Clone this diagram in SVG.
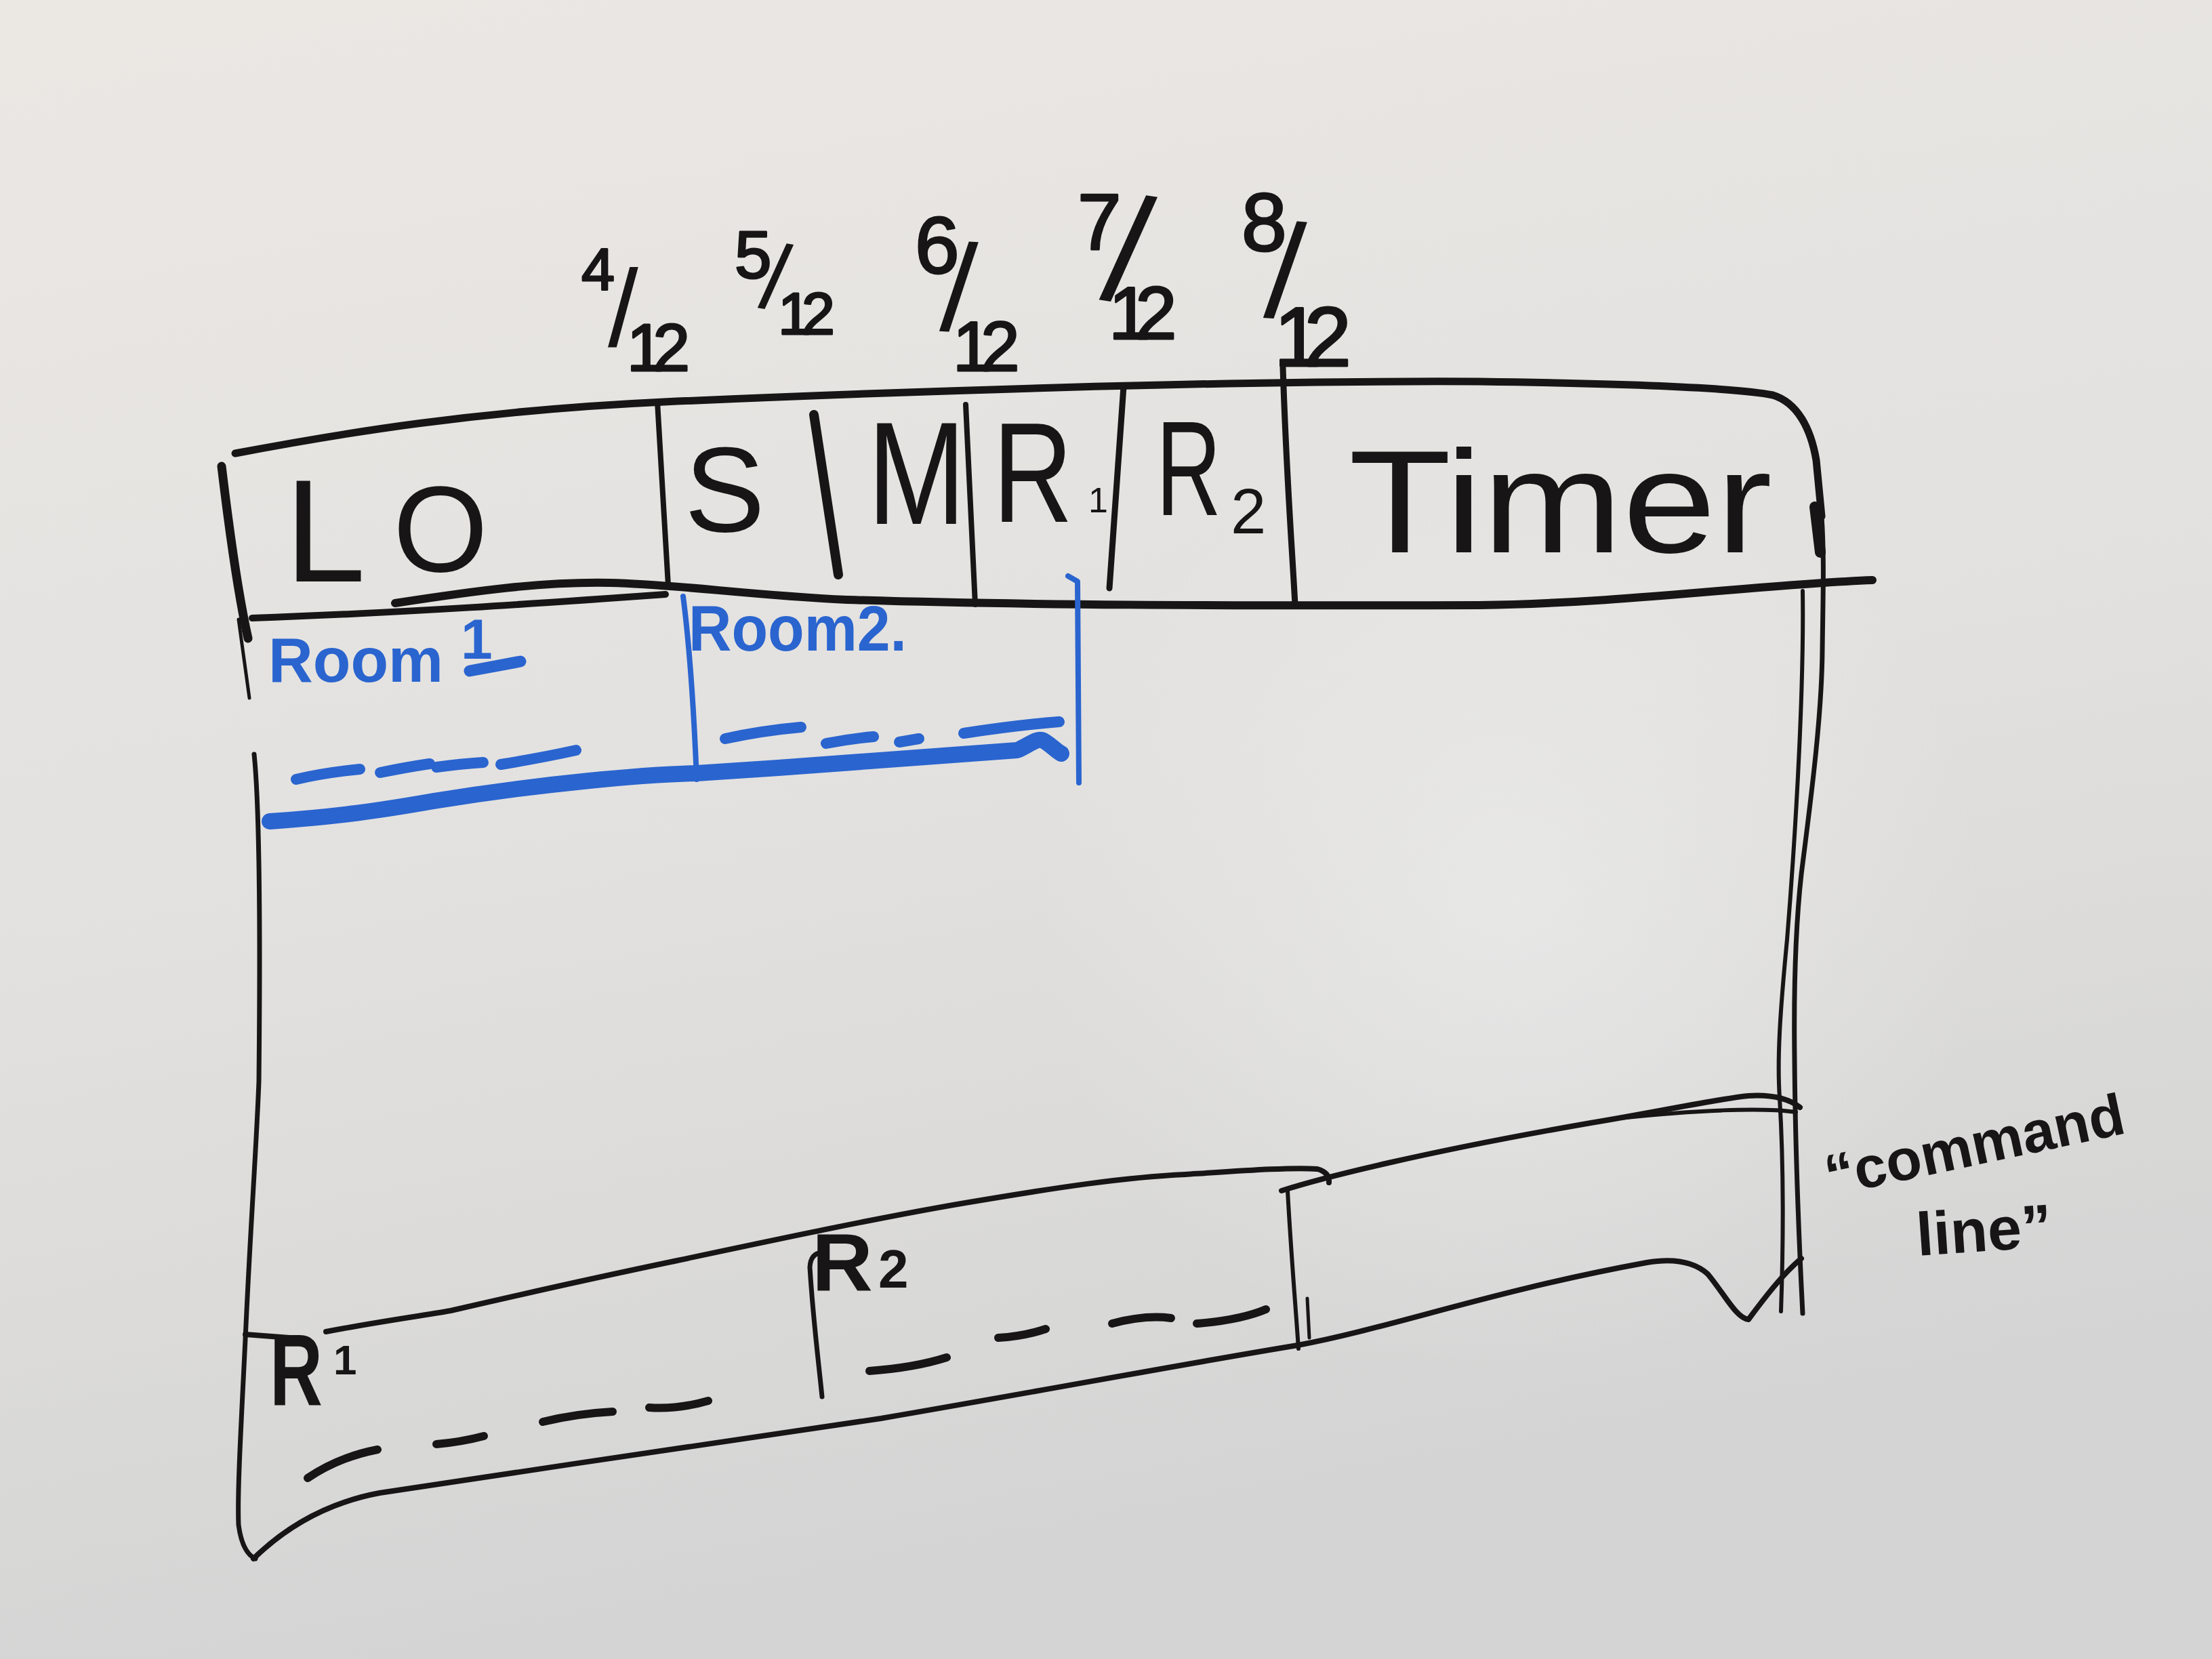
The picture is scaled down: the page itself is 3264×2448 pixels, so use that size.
<svg xmlns="http://www.w3.org/2000/svg" width="3264" height="2448" viewBox="0 0 3264 2448">
  <defs>
    <linearGradient id="board" x1="0" y1="0" x2="0.25" y2="1">
      <stop offset="0" stop-color="#ebe8e4"/>
      <stop offset="0.55" stop-color="#e2e1df"/>
      <stop offset="1" stop-color="#d4d4d4"/>
    </linearGradient>
    <radialGradient id="glare" cx="2230" cy="1330" r="700" gradientUnits="userSpaceOnUse">
      <stop offset="0" stop-color="#eeeeee" stop-opacity="0.6"/>
      <stop offset="1" stop-color="#eeeeee" stop-opacity="0"/>
    </radialGradient>
  </defs>
  <style>
    .ink { fill: none; stroke: #171515; stroke-linecap: round; stroke-linejoin: round; }
    .blue { fill: none; stroke: #2a64cf; stroke-linecap: round; stroke-linejoin: round; }
    .t { fill: #171515; font-family: "Liberation Sans", Arial, sans-serif; }
    .tb { fill: #171515; font-family: "Liberation Sans", Arial, sans-serif; font-weight: bold; }
    .fr { fill: #171515; stroke: #171515; stroke-width: 3; stroke-linejoin: round; font-family: "Liberation Sans", Arial, sans-serif; }
    .sl { stroke: none; }
    .bt { fill: #2a64cf; font-family: "Liberation Sans", Arial, sans-serif; font-weight: bold; }
  </style>

  <rect x="0" y="0" width="3264" height="2448" fill="url(#board)"/>
  <rect x="0" y="0" width="3264" height="2448" fill="url(#glare)"/>

  <!-- frame and divider strokes -->
  <g id="frame-lines">
    <!-- header top border with rounded right corner -->
    <path class="ink" stroke-width="11" d="M347,669 C500,640 700,606 980,593 C1300,579 1800,561 2183,563 C2400,566 2560,572 2616,583 C2652,594 2672,632 2680,679 L2688,762"/>
    <path class="ink" stroke-width="16" d="M2678,748 L2686,815"/>
    <!-- right body border (two strands) -->
    <path class="ink" stroke-width="7" d="M2688,762 C2692,820 2690,880 2689,960 C2688,1060 2672,1180 2658,1290 C2648,1380 2647,1480 2648,1560 C2649,1700 2654,1820 2660,1938"/>
    <path class="ink" stroke-width="6" d="M2660,872 C2662,1000 2652,1200 2637,1386 C2627,1490 2622,1560 2626,1620 C2632,1720 2632,1820 2628,1935"/>
    <!-- header left edge -->
    <path class="ink" stroke-width="13" d="M327,688 C338,780 352,880 366,942"/>
    <path class="ink" stroke-width="5" d="M352,914 L368,1030"/>
    <!-- left body border -->
    <path class="ink" stroke-width="7" d="M375,1113 C384,1200 384,1400 382,1596 C378,1700 370,1800 362,1976 C356,2100 350,2200 352,2250 C356,2280 366,2295 377,2300"/>
    <!-- header bottom lines -->
    <path class="ink" stroke-width="12" d="M583,890 C700,872 800,858 900,860 C1000,862 1100,878 1250,885 C1500,893 1800,894 2183,893 C2400,890 2600,862 2763,856"/>
    <path class="ink" stroke-width="10" d="M372,912 C600,904 800,890 982,877"/>
    <!-- header cell dividers -->
    <path class="ink" stroke-width="8" d="M970,593 L986,864"/>
    <path class="ink" stroke-width="14" d="M1201,612 L1237,848"/>
    <path class="ink" stroke-width="8" d="M1425,597 L1439,892"/>
    <path class="ink" stroke-width="9" d="M1658,570 L1637,868"/>
    <path class="ink" stroke-width="9" d="M1893,542 C1898,700 1906,800 1911,892"/>
    <!-- bottom panel: upper line -->
    <path class="ink" stroke-width="8" d="M362,1969 L427,1974"/>
    <path class="ink" stroke-width="8" d="M481,1965 C560,1950 620,1942 665,1934 C760,1912 880,1885 990,1862 C1150,1828 1300,1796 1424,1775 C1560,1752 1660,1737 1749,1733 C1840,1727 1910,1722 1944,1725 Q1962,1730 1961,1745"/>
    <!-- bottom panel: divider -->
    <path class="ink" stroke-width="6" d="M1900,1757 C1905,1850 1912,1930 1916,1990"/>
    <path class="ink" stroke-width="5" d="M1929,1916 L1932,1974"/>
    <!-- command-line panel top -->
    <path class="ink" stroke-width="8" d="M1891,1757 C1950,1738 2100,1700 2347,1657 C2450,1640 2530,1622 2580,1617 Q2630,1614 2656,1634"/>
    <path class="ink" stroke-width="6" d="M2389,1650 C2500,1638 2600,1634 2650,1641"/>
    <!-- bottom border (whole body) -->
    <path class="ink" stroke-width="8" d="M374,2300 C420,2255 480,2218 560,2203 C800,2165 1100,2125 1300,2093 C1550,2050 1750,2012 1915,1985 C2050,1960 2200,1905 2430,1863 Q2490,1853 2520,1880 C2545,1910 2562,1945 2580,1947 C2600,1920 2630,1880 2658,1857"/>
  </g>

  <!-- header cells -->
  <g id="cell-LO">
    <text class="t" x="420" y="858" font-size="215">L<tspan x="580" y="843" font-size="180">O</tspan></text>
  </g>
  <g id="cell-S">
    <text class="t" x="1010" y="784" font-size="178">S</text>
  </g>
  <g id="cell-M">
    <text class="t" x="1280" y="773" font-size="215" textLength="145" lengthAdjust="spacingAndGlyphs">M</text>
  </g>
  <g id="cell-R1">
    <text class="t" x="1465" y="770" font-size="210" textLength="118" lengthAdjust="spacingAndGlyphs">R</text>
    <text class="t" x="1606" y="756" font-size="52">1</text>
  </g>
  <g id="cell-R2">
    <text class="t" x="1706" y="760" font-size="198" textLength="96" lengthAdjust="spacingAndGlyphs">R</text>
    <text class="t" x="1816" y="787" font-size="94">2</text>
  </g>
  <g id="cell-Timer">
    <text class="t" x="1990" y="815" font-size="215" textLength="625" lengthAdjust="spacingAndGlyphs">Timer</text>
  </g>

  <!-- fractions above the header -->
  <g id="frac-4-12">
    <text class="fr"><tspan x="858" y="428" font-size="88">4</tspan><tspan class="sl" x="897" y="511" font-size="161" rotate="0">/</tspan><tspan x="925" y="547" font-size="98" letter-spacing="-16">12</tspan></text>
  </g>
  <g id="frac-5-12">
    <text class="fr"><tspan x="1084" y="410" font-size="98">5</tspan><tspan class="sl" x="1118" y="453" font-size="137" rotate="9">/</tspan><tspan x="1148" y="493" font-size="88" letter-spacing="-14">12</tspan></text>
  </g>
  <g id="frac-6-12">
    <text class="fr"><tspan x="1350" y="403" font-size="118">6</tspan><tspan class="sl" x="1386" y="487" font-size="183" rotate="3">/</tspan><tspan x="1406" y="547" font-size="103" letter-spacing="-16">12</tspan></text>
  </g>
  <g id="frac-7-12">
    <text class="fr"><tspan x="1590" y="368" font-size="116">7</tspan><tspan class="sl" x="1622" y="440" font-size="222" rotate="9">/</tspan><tspan x="1636" y="500" font-size="110" letter-spacing="-22">12</tspan></text>
  </g>
  <g id="frac-8-12">
    <text class="fr"><tspan x="1832" y="370" font-size="120">8</tspan><tspan class="sl" x="1864" y="467" font-size="198" rotate="4">/</tspan><tspan x="1880" y="540" font-size="125" letter-spacing="-25">12</tspan></text>
  </g>

  <!-- blue room sketch -->
  <g id="room1">
    <text class="bt" x="396" y="1006" font-size="92" textLength="258" lengthAdjust="spacingAndGlyphs">Room</text>
    <text class="bt" x="680" y="972" font-size="84">1</text>
    <path class="blue" stroke-width="17" d="M693,990 L768,976"/>
    <g stroke-width="16" class="blue">
      <path d="M437,1150 Q480,1140 531,1135"/>
      <path d="M561,1140 Q600,1132 634,1127"/>
      <path d="M644,1132 Q680,1127 713,1125"/>
      <path d="M739,1128 Q800,1118 850,1107"/>
    </g>
  </g>
  <g id="room2">
    <text class="bt" x="1016" y="960" font-size="94" textLength="322" lengthAdjust="spacingAndGlyphs">Room2.</text>
    <g stroke-width="16" class="blue">
      <path d="M1070,1090 Q1125,1078 1182,1073"/>
      <path d="M1219,1097 Q1255,1090 1289,1087"/>
      <path d="M1327,1095 L1356,1090"/>
      <path d="M1422,1082 Q1500,1070 1563,1065"/>
    </g>
  </g>
  <g id="room-lines">
    <path class="blue" stroke-width="8" d="M1008,880 C1017,950 1024,1050 1028,1150"/>
    <path class="blue" stroke-width="8" d="M1576,850 L1590,858 L1592,1155"/>
    <path class="blue" stroke-width="24" d="M398,1212 C500,1205 560,1196 640,1182 C800,1156 950,1143 1028,1141 C1200,1130 1400,1115 1501,1107 C1518,1100 1530,1088 1540,1093 C1552,1100 1558,1108 1566,1112"/>
  </g>

  <!-- bottom panel content -->
  <g id="panel-R1">
    <text class="tb" x="398" y="2073" font-size="150" textLength="78" lengthAdjust="spacingAndGlyphs">R</text>
    <text class="tb" x="492" y="2028" font-size="62">1</text>
    <g class="ink" stroke-width="12">
      <path d="M454,2181 Q500,2150 557,2139"/>
      <path d="M644,2131 Q680,2128 714,2119"/>
      <path d="M801,2098 Q850,2086 904,2083"/>
      <path d="M958,2077 Q1000,2080 1045,2067"/>
    </g>
  </g>
  <g id="panel-R2">
    <path class="ink" stroke-width="7" d="M1212,1848 Q1196,1850 1195,1870 C1200,1950 1208,2010 1213,2061"/>
    <text class="tb" x="1198" y="1905" font-size="120" textLength="90" lengthAdjust="spacingAndGlyphs">R</text>
    <text class="tb" x="1296" y="1900" font-size="80">2</text>
    <g class="ink" stroke-width="12">
      <path d="M1283,2023 Q1350,2018 1397,2003"/>
      <path d="M1473,1974 Q1510,1972 1543,1961"/>
      <path d="M1641,1953 Q1690,1940 1728,1945"/>
      <path d="M1766,1953 Q1830,1948 1868,1932"/>
    </g>
  </g>

  <!-- side label -->
  <g id="command-line-label">
    <text class="tb" font-size="86" transform="rotate(-12 2700 1765)" x="2700" y="1765">“command</text>
    <text class="tb" font-size="90" transform="rotate(-4 2830 1853)" x="2830" y="1853">line”</text>
  </g>
</svg>
